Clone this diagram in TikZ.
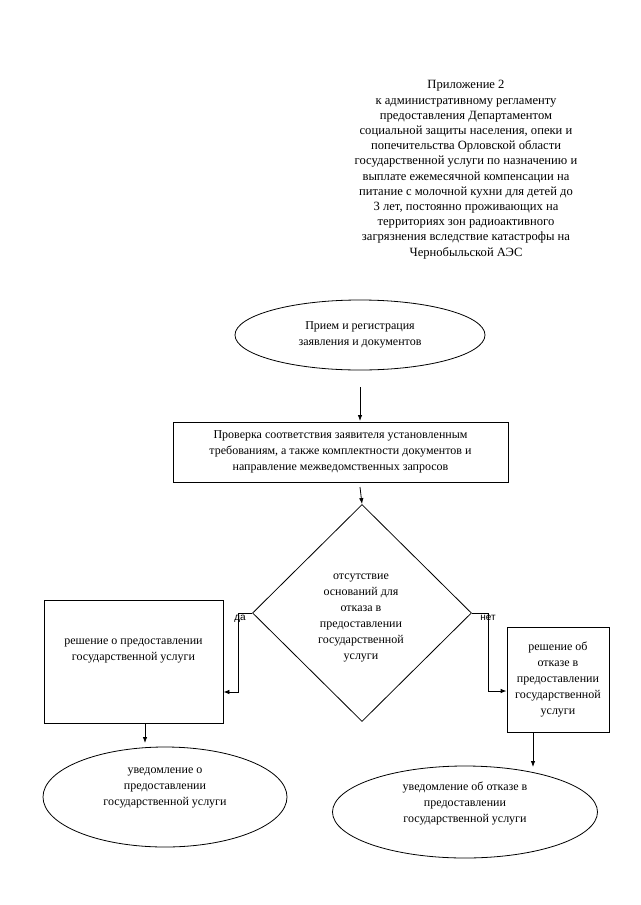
\documentclass[tikz,border=0pt]{standalone}
\usepackage{fontspec}
\setmainfont{Liberation Serif}
\newfontfamily\lsans{Liberation Sans}
\usetikzlibrary{shapes.geometric,arrows.meta}
\tikzset{
  every node/.style={font=\fontsize{12}{16}\selectfont, align=center},
  oval/.style={draw, ellipse, inner sep=0pt, line width=0.8pt},
  boxnode/.style={draw, rectangle, inner sep=0pt, line width=0.8pt},
  decision/.style={draw, diamond, inner sep=0pt, line width=0.8pt},
  arr/.style={line width=0.8pt, -{Latex[length=6pt,width=4.5pt]}},
  lbl/.style={font=\lsans\fontsize{10}{12}\selectfont, inner sep=0pt}
}
\begin{document}
\begin{tikzpicture}[x=1pt,y=-1pt]
\useasboundingbox[fill=white] (0,0) rectangle (640,905);
% header
\node[font=\fontsize{12.6}{15.2}\selectfont, anchor=north] (hdr) at (466,77) {Приложение 2\\
к административному регламенту\\
предоставления Департаментом\\
социальной защиты населения, опеки и\\
попечительства Орловской области\\
государственной услуги по назначению и\\
выплате ежемесячной компенсации на\\
питание с молочной кухни для детей до\\
3 лет, постоянно проживающих на\\
территориях зон радиоактивного\\
загрязнения вследствие катастрофы на\\
Чернобыльской АЭС};
% nodes
\node[oval, minimum width=250pt, minimum height=70pt] (e1) at (360,335) {Прием и регистрация\\заявления и документов};
\node[boxnode, minimum width=335pt, minimum height=60pt] (r2) at (340.5,452) {Проверка соответствия заявителя установленным\\требованиям, а также комплектности документов и\\направление межведомственных запросов};
\node[decision, minimum width=219pt, minimum height=217pt] (d) at (362,613) {};
\node at (361,618) (dt) {отсутствие\\оснований для\\отказа в\\предоставлении\\государственной\\услуги};
\node[boxnode, minimum width=179pt, minimum height=123pt] (lr) at (133.5,661.5) {решение о предоставлении\\государственной услуги\\[8pt]};
\node[boxnode, minimum width=102pt, minimum height=105pt] (rr) at (558,679.5) {решение об\\отказе в\\предоставлении\\государственной\\услуги};
\node[oval, minimum width=244pt, minimum height=100pt] (e2) at (165,797) {уведомление о\\предоставлении\\государственной услуги\\[4pt]};
\node[oval, minimum width=265pt, minimum height=92pt] (e3) at (465,812) {уведомление об отказе в\\предоставлении\\государственной услуги\\[4pt]};
% labels
\node[lbl] (da) at (240,619) {да};
\node[lbl] (net) at (488,618) {нет};
% connectors
\coordinate (a1s) at (360,387);
\coordinate (a1e) at (360,421);
\draw[arr] (a1s) -- (a1e);
\coordinate (a2s) at (360,487);
\draw[arr] (a2s) -- (d.north);
\coordinate (la) at (238,692);
\draw[arr] (d.west) -| (la) -- (la -| lr.east);
\coordinate (ra) at (488,691);
\draw[arr] (d.east) -| (ra) -- (ra -| rr.west);
\coordinate (lb) at (145,723);
\coordinate (lbe) at (145,743);
\draw[arr] (lb) -- (lbe);
\coordinate (rb) at (533,732);
\coordinate (rbe) at (533,767);
\draw[arr] (rb) -- (rbe);
\end{tikzpicture}
\end{document}
